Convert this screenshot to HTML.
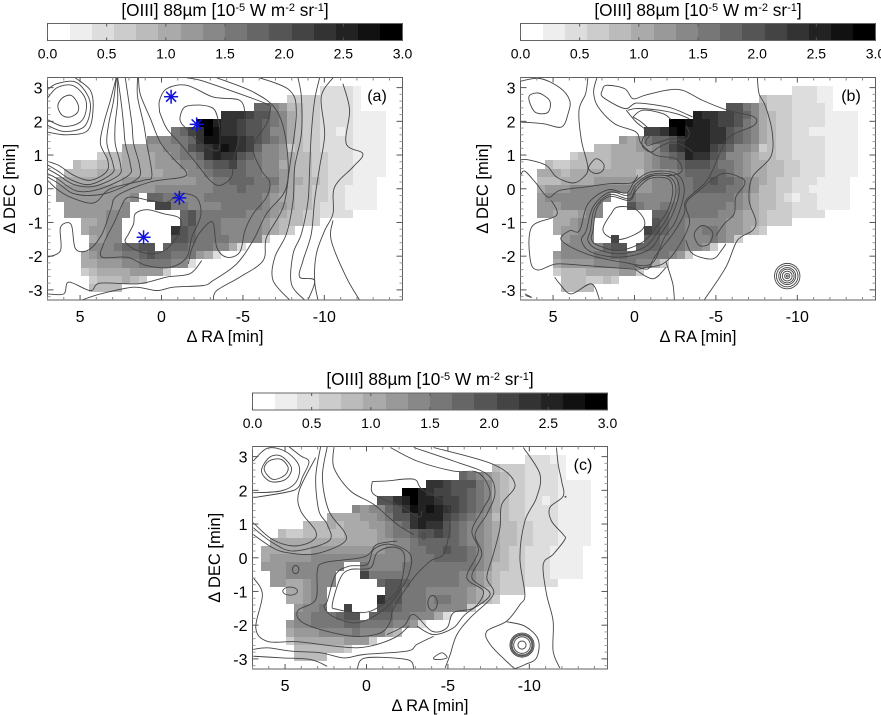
<!DOCTYPE html>
<html lang="en">
<head>
<meta charset="utf-8">
<title>[OIII] 88 micron maps</title>
<style>
html,body{margin:0;padding:0;background:#fff;}
svg{display:block;font-family:"Liberation Sans",sans-serif;fill:#000;}
</style>
</head>
<body>
<svg id="chart" xmlns="http://www.w3.org/2000/svg" width="881" height="715" viewBox="0 0 881 715"></svg>
<script>
// Flux bands per map cell (band index, each band is 3/16 x 10^-5 W m^-2 sr^-1). Rows run north to south, trailing blanks omitted.
const heatA=[
[0,0,0,0,0,0,0,0,0,0,0,0,0,0,0,0,0,0,0,0,0,0,0,0,0,0,0,0,0,0,0,0,2,2,2,2,1],
[0,0,0,0,0,0,0,0,0,0,0,0,0,0,0,0,0,0,0,0,0,0,0,0,0,0,0,0,3,3,3,3,2,2,2,2,1],
[0,0,0,0,0,0,0,0,0,0,0,0,0,0,0,0,0,0,0,0,0,0,0,0,9,9,7,6,4,4,3,3,2,2,2,2,1],
[0,0,0,0,0,0,0,0,0,0,0,0,0,0,0,0,0,0,0,0,12,12,12,11,10,10,8,7,5,4,3,3,2,2,2,2,1,1,1,1],
[0,0,0,0,0,0,0,0,0,0,0,0,0,0,0,0,0,15,15,13,12,12,11,10,10,9,8,7,5,4,3,3,2,2,2,2,1,1,1,1],
[0,0,0,0,0,0,0,0,0,0,0,0,0,0,8,9,11,12,15,14,12,12,11,10,10,9,7,7,5,4,3,3,2,2,1,2,1,1,1,1],
[0,0,0,0,0,0,0,0,0,0,0,7,7,7,8,8,9,12,14,14,13,13,12,11,10,9,8,7,5,4,3,3,2,2,2,2,1,1,1,1],
[0,0,0,0,0,0,0,0,5,5,5,6,6,7,7,8,10,11,12,13,14,13,12,11,9,7,7,6,3,4,3,3,2,2,2,2,1,1,1,1],
[0,0,0,0,0,3,4,4,5,5,5,5,6,6,7,8,8,9,12,13,12,12,10,9,8,7,7,6,5,4,4,3,3,2,2,2,1,1,1,1],
[0,0,4,3,3,4,4,4,5,5,5,5,6,6,6,7,7,8,9,10,10,11,9,8,8,7,7,5,5,4,4,3,3,2,2,2,1,1,1,1],
[0,4,4,4,4,5,5,5,5,5,5,5,5,6,6,6,7,7,8,9,9,9,9,8,8,7,7,6,5,4,4,3,3,2,2,2,1,1,1,1],
[5,5,5,5,5,5,5,5,6,6,6,6,6,6,6,6,6,7,7,8,8,9,9,9,8,8,8,6,5,5,4,4,3,2,2,2,1,1,1],
[6,6,6,6,6,6,6,6,6,6,6,6,7,7,7,7,7,7,7,8,8,8,9,8,8,8,7,6,5,4,4,3,3,2,2,1,1,1,1],
[6,6,6,6,6,6,6,6,6,7,0,9,9,8,8,7,7,7,8,8,8,8,8,8,8,7,6,5,5,4,4,3,3,2,2,1,1,1,1],
[0,6,6,6,6,6,6,6,7,0,0,0,11,11,8,8,7,7,7,7,8,8,8,8,8,7,6,6,5,4,4,3,2,2,2,1,1,1,1],
[0,6,6,6,6,6,7,7,7,0,0,0,0,0,0,9,10,8,8,8,8,8,8,7,7,7,6,5,4,4,3,3,2,2,2,2],
[0,0,0,5,5,6,7,7,0,0,0,0,0,0,0,9,10,8,8,8,7,7,7,7,7,6,5,4,4,4,3,3],
[0,0,0,5,6,6,7,7,0,0,0,0,0,0,12,10,9,8,8,8,7,7,7,7,7,6,5,4,3],
[0,0,0,0,5,6,7,7,0,0,0,0,0,0,10,10,9,8,8,8,8,7,7,7,7,3],
[0,0,0,0,7,7,7,8,9,9,10,10,0,9,9,9,8,8,8,7,7,5,2],
[0,0,0,5,6,7,7,7,8,8,9,10,9,9,8,8,8,6,5,2],
[0,0,0,5,5,6,6,6,7,7,8,8,8,8,7,7,2],
[0,0,0,3,4,5,5,5,5,6,6,6,6,3],
[0,0,0,0,3,4,4,4,5,4,3],
[0,0,0,0,4,4,4,4]
];
const heatB=[
[0,0,0,0,0,0,0,0,0,0,0,0,0,0,0,0,0,0,0,0,0,0,0,0,0,0,0,0,0,0,0,0,2,2,2,1,1],
[0,0,0,0,0,0,0,0,0,0,0,0,0,0,0,0,0,0,0,0,0,0,0,0,0,0,0,0,4,3,3,3,2,2,2,1,1],
[0,0,0,0,0,0,0,0,0,0,0,0,0,0,0,0,0,0,0,0,0,0,0,0,10,10,8,7,5,3,3,3,2,2,2,2,1],
[0,0,0,0,0,0,0,0,0,0,0,0,0,0,0,0,0,0,0,0,13,12,12,11,11,10,9,7,5,4,3,3,2,2,2,2,1,1,1,1],
[0,0,0,0,0,0,0,0,0,0,0,0,0,0,0,0,0,15,15,14,13,13,12,11,11,10,8,7,5,4,3,3,2,2,2,2,1,1,1,1],
[0,0,0,0,0,0,0,0,0,0,0,0,0,0,11,11,12,14,15,13,13,13,12,12,10,9,8,7,5,4,3,3,2,2,1,1,1,1,1,1],
[0,0,0,0,0,0,0,0,0,0,0,6,5,6,8,9,9,10,12,13,13,13,12,12,10,9,8,7,5,4,3,3,2,2,2,2,1,1,1,1],
[0,0,0,0,0,0,0,0,4,4,5,5,5,6,6,7,9,11,12,13,13,13,11,10,9,7,7,6,3,4,3,3,2,2,2,2,1,1,1,1],
[0,0,0,0,0,3,4,4,4,4,5,5,5,5,6,7,8,9,10,13,12,12,10,9,7,7,6,5,4,4,3,3,2,2,2,2,1,1,1,1],
[0,0,4,3,3,4,4,4,4,4,5,5,5,5,6,7,8,8,9,10,10,10,9,8,8,7,6,5,5,4,4,3,3,2,2,2,1,1,1,1],
[0,5,5,5,4,5,5,5,5,5,5,5,5,4,6,6,6,7,8,9,9,9,9,9,8,7,6,5,5,4,4,3,3,2,2,2,1,1,1,1],
[0,4,4,4,5,5,5,5,6,6,6,6,6,6,6,7,7,7,8,8,9,9,10,9,9,8,7,6,5,4,3,3,2,2,2,1,1,1,1],
[0,5,6,6,6,7,7,7,7,7,7,7,7,6,6,7,7,7,8,8,9,9,9,9,8,8,7,6,4,4,3,3,2,2,1,1,1,1,1],
[0,6,7,7,7,7,7,7,7,7,0,0,8,7,7,7,7,7,8,8,8,8,8,8,8,7,6,5,4,4,3,2,1,2,2,1,1,1,1],
[0,6,6,6,7,7,7,7,7,0,0,0,10,8,7,7,8,8,8,8,8,8,8,8,7,7,6,5,4,4,3,3,2,2,2,1,1,1,1],
[0,6,6,5,5,5,6,7,7,0,0,0,0,0,0,9,9,8,8,8,8,8,8,7,7,6,5,5,4,3,3,3,2,2,2,2],
[0,0,0,5,5,6,7,7,0,0,0,0,0,0,0,10,9,8,8,7,7,7,7,7,6,6,5,5,4,3,3,3],
[0,0,0,5,6,6,7,7,0,0,0,0,0,0,11,10,9,8,8,7,7,8,8,7,6,6,5,4,3],
[0,0,0,0,6,7,7,7,0,0,11,0,0,0,9,9,8,8,8,7,7,7,8,7,6,3],
[0,0,0,0,7,7,7,7,7,9,10,10,0,9,9,9,8,8,8,7,7,6,3],
[0,0,0,6,7,7,7,7,8,8,9,9,8,8,8,8,8,7,6,3],
[0,0,0,5,6,6,6,6,7,7,7,8,8,7,7,5,3],
[0,0,0,3,4,4,4,5,5,5,5,6,6,3],
[0,0,0,0,4,4,4,3,3,4,3],
[0,0,0,0,4,4,4,4]
];
const heatC=[
[0,0,0,0,0,0,0,0,0,0,0,0,0,0,0,0,0,0,0,0,0,0,0,0,0,0,0,0,0,0,0,0,2,2,2,1,1],
[0,0,0,0,0,0,0,0,0,0,0,0,0,0,0,0,0,0,0,0,0,0,0,0,0,0,0,0,4,3,3,3,2,2,2,2,1],
[0,0,0,0,0,0,0,0,0,0,0,0,0,0,0,0,0,0,0,0,0,0,0,0,9,8,7,6,5,4,3,3,2,2,2,2,1],
[0,0,0,0,0,0,0,0,0,0,0,0,0,0,0,0,0,0,0,0,12,12,11,10,10,10,8,7,5,4,3,3,2,2,2,2,1,1,1,1],
[0,0,0,0,0,0,0,0,0,0,0,0,0,0,0,0,0,15,15,13,12,11,11,10,10,9,8,7,5,4,3,3,2,2,2,2,1,1,1,1],
[0,0,0,0,0,0,0,0,0,0,0,0,0,0,10,10,12,13,15,13,13,12,11,11,10,9,8,7,5,4,3,3,2,2,1,2,1,1,1,1],
[0,0,0,0,0,0,0,0,0,0,0,7,6,7,7,9,10,12,14,13,14,13,12,11,10,9,8,7,5,4,3,3,2,2,2,2,1,1,1,1],
[0,0,0,0,0,0,0,0,5,5,5,5,6,6,7,8,10,10,12,13,13,13,11,10,9,8,7,6,4,4,3,3,2,2,2,2,1,1,1,1],
[0,0,0,0,0,4,4,4,5,4,5,5,5,6,6,7,8,9,12,13,12,12,10,9,8,7,7,6,5,4,4,3,3,2,2,2,1,1,1,1],
[0,0,4,3,3,4,4,4,4,4,5,5,5,5,6,7,8,8,9,10,10,11,10,9,8,7,7,6,5,4,4,3,3,2,2,2,1,1,1,1],
[0,5,5,5,5,5,5,5,5,5,5,5,5,5,6,6,7,7,8,9,9,9,9,9,8,7,7,6,5,4,4,3,3,2,2,2,1,1,1,1],
[5,5,5,5,5,5,6,6,6,6,6,6,6,6,6,7,7,7,8,8,9,9,10,9,9,8,7,6,5,4,3,3,2,2,2,1,1,1,1],
[5,6,6,6,6,6,7,7,7,7,7,7,7,7,7,7,7,7,8,8,8,9,9,9,9,8,7,6,5,4,3,3,2,2,2,1,1,1,1],
[6,6,6,7,7,7,7,7,7,7,0,0,8,7,7,7,7,8,8,8,8,8,8,8,8,8,7,6,4,4,3,3,2,2,2,1,1,1,1],
[0,6,6,7,7,7,7,7,7,0,0,0,11,8,8,8,8,8,8,8,8,8,8,8,7,7,6,5,4,3,3,3,2,2,2,1,1,1,1],
[0,6,6,5,5,6,7,7,7,0,0,0,0,0,9,10,10,9,8,8,8,8,8,8,7,7,6,5,4,3,3,3,2,2,2,2],
[0,0,0,5,5,6,7,7,0,0,0,0,0,0,0,10,10,8,8,8,7,7,7,7,7,6,5,4,4,3,3,3],
[0,0,0,5,5,6,7,7,0,0,0,0,0,0,12,10,10,8,8,8,7,8,8,7,7,6,5,4,3],
[0,0,0,0,6,7,7,8,0,0,11,0,0,0,10,10,9,8,8,8,7,7,7,7,7,3],
[0,0,0,0,7,7,8,8,8,9,10,10,0,9,9,9,8,8,7,7,7,5,2],
[0,0,0,6,7,7,8,8,8,8,9,9,8,8,8,8,7,7,6,2],
[0,0,0,5,6,6,6,7,7,7,7,8,7,7,7,5,4],
[0,0,0,3,5,5,5,5,5,5,6,6,6,3],
[0,0,0,0,4,4,4,4,4,4,3],
[0,0,0,0,4,4,4,4]
];
// Open contours: [RA, DEC] vertices in minutes.
const linesA=[
[[5.29,3.29],[4.37,2.92],[4.2,2.38],[4.53,1.73],[5.8,1.6],[7,1.68]],
[[7,2.94],[6.41,3.12],[5.29,3.17],[4.53,2.77],[4.37,2.33],[4.78,1.83],[6,1.7],[7,1.88]],
[[6.98,2.7],[6.41,3.0],[5.49,3.07],[4.78,2.77],[4.61,2.38],[4.98,1.98],[6,1.85],[7,2.05]],
[[2.78,3.29],[3.14,2.62],[3.55,1.93],[3.75,1.34],[3.3,.84],[3.39,.5],[4.37,.25],[5.39,.4],[6.3,.69],[7,.81]],
[[2.78,3.29],[2.94,2.62],[3.24,1.93],[3.35,1.34],[2.98,.74],[3.04,.45],[4.37,.13],[5.49,.25],[6.41,.54],[7,.71]],
[[2.73,3.29],[2.69,2.62],[2.84,1.93],[2.84,1.34],[2.53,.74],[2.63,.4],[4.16,.07],[5.39,.13],[6.41,.43],[7,.59]],
[[2.69,3.29],[2.49,2.62],[2.33,1.93],[2.22,1.34],[1.92,.74],[2.02,.4],[3.75,0],[5.18,-.07],[6.41,.3],[7,.45]],
[[2.22,3.29],[2.02,2.62],[1.82,1.93],[1.71,1.34],[1.35,.69],[1.47,.3],[3.14,-.1],[4.37,-.2],[5.49,-.13],[6.3,.15],[7,.35]],
[[1.47,3.29],[1.47,2.72],[1.1,1.93],[.9,1.34],[.59,.39],[1.1,.25],[3.15,0],[4.16,-.42],[5.59,-.25],[6.45,0],[7,.25]],
[[7,-2.03],[6.2,-1.83],[6.2,-1.14],[5.55,-1.06],[5.28,-1.78],[4.47,-1.81],[3.65,-1.34],[3.1,-.6],[2.7,-.2],[.69,.2],[-1.25,.34],[-1.51,.5],[-.72,.9],[.08,1.38],[.69,2.09],[1.3,2.8],[1.41,3.29]],
[[7,-3.12],[6,-3.12],[5.69,-2.77],[4.37,-3.02],[3.75,-2.8],[1.41,-2.82],[-.33,-2.62],[-1.75,-2.52],[-2.47,-2.13]],
[[-1.65,-2.23],[-1.86,-1.78],[-2.37,-1.29],[-3.14,-.99],[-3.39,-1.73],[-4,-2.03],[-4.81,-1.88],[-5.12,-1.24],[-5.63,-.74],[-6.45,-.25],[-6.65,.2],[-6.14,.54],[-5.63,1.24],[-6.45,1.93],[-6.69,2.38],[-6.45,2.52],[-4.2,2.92],[-2.37,3.22],[-1.55,3.29]],
[[4.88,-3.3],[3.75,-3.12],[1.71,-2.92],[.29,-3.02],[-.73,-2.92],[-2.57,-2.87],[-3.18,-2.72],[-4.61,-2.23],[-5.63,-1.53],[-6.45,-.74],[-7.67,.05],[-7.67,1.34],[-7.06,2.33],[-5.63,2.87],[-3.39,3.29]],
[[-6.04,3.29],[-7.87,2.92],[-8.28,2.23],[-7.87,.64],[-7.47,-.54],[-6.45,-1.44],[-6.24,-2.13],[-4.81,-2.62],[-3.39,-3.02],[-3.18,-3.3]],
[[-8.38,3.29],[-8.59,2.72],[-8.59,1.63],[-8.18,.64],[-8.08,-.35],[-7.67,-1.34],[-6.96,-2.03],[-6.85,-2.72],[-7.87,-3.3]],
[[-9.71,3.29],[-9.4,2.62],[-9.2,1.63],[-9.1,.64],[-9,-.35],[-8.59,-1.34],[-8.08,-1.93],[-7.98,-2.82],[-8.79,-3.3]],
[[-10.53,3.29],[-9.81,2.72],[-10.02,1.63],[-9.71,.64],[-9.4,-.35],[-9.2,-1.34],[-8.69,-2.13],[-8.49,-2.62],[-9.4,-2.72],[-9,-3.3]],
[[-11.14,3.12],[-11.55,2.33],[-11.34,1.34],[-12.36,1.04],[-11.75,.64],[-10.63,.05],[-10.53,-.74],[-10.02,-1.24],[-9.51,-1.93],[-9.4,-2.72],[-9.61,-3.3]],
[[-10.53,-.94],[-10.42,-1.53],[-11.34,-2.62],[-12.16,-3.3]]
];
const loopsA=[
[[6.37,2.45],[6.1,2.69],[5.55,2.77],[5.14,2.52],[5.14,2.28],[5.59,2.13],[6.1,2.18]],
[[.12,2.33],[.12,2.62],[-.33,2.97],[-1.55,3.07],[-3.18,2.72],[-4.81,2.62],[-5.12,2.13],[-4.92,1.73],[-4.41,.84],[-4.3,.35],[-3.59,.1],[-2.98,.25],[-2.16,.74],[-1.14,1.34],[-.33,1.78],[.08,2.23]],
[[-1.14,2.13],[-1.45,2.43],[-2.37,2.48],[-3.18,2.38],[-3.49,2.03],[-3.59,1.63],[-3.49,1.14],[-2.77,1.24],[-2.16,1.44],[-1.65,1.73],[-1.24,1.93]],
[[1.71,-1.04],[1.61,-.74],[.9,-.62],[-.12,-.74],[-1.14,-.89],[-1.04,-1.34],[-.33,-1.78],[.49,-1.93],[1.51,-1.83],[2.22,-1.58],[2.02,-1.34]],
[[2.53,-.59],[2.02,-.25],[.69,-.35],[-.33,-.4],[-1.14,-.15],[-2.16,-.27],[-2.41,-.79],[-1.86,-1.44],[-1.55,-2.03],[-.53,-2.33],[.9,-2.28],[2.12,-2.03],[3.65,-2.03],[3.55,-1.63],[2.84,-.94]]
];
const linesB=[
[[7,3.19],[5.81,3.27],[4.59,3],[3.98,2.62],[4.08,2.23],[4.49,1.83],[5.61,1.93],[7,1.98]],
[[2.86,3.29],[3,2.82],[3.41,2.33],[3.26,1.44],[2.86,.64],[3.12,.35],[3.77,.17],[4.79,.35],[5.41,.69],[6.53,.86],[7,.86]],
[[2.31,3.29],[2.51,2.87],[2.24,2.43],[1.22,1.93],[-.1,1.68],[-.41,1.34],[-1.33,.99],[-2.55,.89],[-2.92,.54],[-2.35,.4],[-1.22,.4],[-.51,.25]],
[[1.98,2.92],[1.73,3.07],[.61,2.97],[.1,2.67],[-.61,2.77],[-1.94,2.92],[-2.96,2.92],[-4.18,2.62],[-5.71,2.33],[-7.34,2.13],[-7.34,1.88],[-6.12,1.63],[-5.51,1.34],[-4.79,.54],[-4.28,.15],[-3.16,-.35],[-3.06,-.74],[-2.35,-1.34],[-1.22,-2.03],[-.82,-2.38],[0,-2.28]],
[[1.98,2.92],[1.94,2.72],[.61,2.38],[-.1,2.54],[-1.33,2.48],[-2.35,2.38],[-3.57,2.13]],
[[.41,2.33],[-.2,2.38],[-1.53,2.33],[-2.55,2.23],[-3.37,2.08]],
[[.1,2.13],[-.51,2.33],[-1.73,2.23],[-2.24,2.05]],
[[.51,2.33],[-.1,1.98],[-.82,1.68],[-.51,1.49],[-.51,1.24],[-1.02,1.09],[-1.53,1.24],[-2.35,1.39],[-3.16,1.24],[-3.57,1.09]],
[[.1,2.13],[-.41,1.98],[-1.02,1.68],[-.71,1.44],[-.82,1.29],[-1.53,1.39],[-2.35,1.49],[-3.06,1.44],[-3.37,1.63],[-3.16,1.88]],
[[7,.4],[6.73,.52],[6.02,.15],[5.3,-.25],[4.59,-.05],[3.06,.05],[1.53,.15],[.2,.17],[-.2,.4]],
[[5.1,-.35],[4.79,-.79],[6.32,-1.14],[6.39,-2.13],[5.92,-2.41],[4.79,-2.23],[2.96,-2.28],[0,-2.38],[-.71,-2.33],[-1.73,-2.23],[-2.55,-1.83],[-3.37,-1.04],[-3.16,-.45],[-3.98,-.05],[-5.41,.45],[-6.63,.3],[-6.73,.1],[-6.22,-.25],[-6.12,-.74],[-5.51,-1.04],[-5,-1.39]],
[[-7.55,3.29],[-7.65,2.82],[-8.06,2.43],[-8.47,1.63],[-8.36,.94],[-7.24,.35],[-7.04,-.35],[-7.45,-.94],[-7.24,-1.24],[-6.32,-1.53],[-5.61,-2.33],[-4.39,-3.22],[-4.28,-3.3]],
[[-1.94,-2.18],[-2.35,-2.82],[-2.45,-3.3]],
[[-3.16,-1.53],[-3.57,-1.93],[-4.79,-2.08],[-5.41,-1.78],[-5.61,-1.63]],
[[4.9,-2.62],[4.59,-2.82],[3.88,-3.12],[2.65,-2.82],[2.14,-3.3]],
[[0,-2.38],[-1.12,-2.67],[-1.94,-2.33]],
[[6.73,-3.12],[6.32,-3.22],[6.69,-3.17]]
];
const loopsB=[
[[6.49,2.72],[5.92,2.84],[5.3,2.67],[5.16,2.48],[5.37,2.25],[6.12,2.28]],
[[2.79,.67],[2.35,.89],[1.9,.74],[1.94,.54],[2.35,.45],[2.75,.54]],
[[1.94,-1.19],[1.43,-.74],[1.02,-.54],[0,-.59],[-.61,-.94],[-.41,-1.24],[.71,-1.49],[1.53,-1.44]],
[[2.55,-1.24],[2.31,-.59],[1.53,-.23],[.31,-.35],[-.1,-.05],[-.92,.3],[-2.04,.3],[-2.35,-.05],[-2.04,-.64],[-1.33,-1.14],[-.51,-1.58],[.92,-1.83],[2.24,-1.68],[2.65,-1.49]],
[[2.71,-1.24],[2.45,-.59],[1.53,-.17],[.31,-.3],[-.1,.05],[-.92,.37],[-2.14,.35],[-2.55,-.05],[-2.14,-.74],[-1.49,-1.24],[-.61,-1.73],[.92,-1.93],[2.35,-1.78],[2.86,-1.53]],
[[2.96,-1.24],[2.55,-.54],[1.53,-.1],[.41,-.2],[-.1,.15],[-1.02,.43],[-2.35,.4],[-2.75,-.05],[-2.35,-.74],[-1.63,-1.34],[-.82,-1.83],[.92,-2.03],[2.65,-1.88],[3.26,-1.53]],
[[3.37,-1.24],[2.86,-.45],[1.63,-.03],[.51,-.13],[0,.2],[-1.02,.5],[-2.55,.45],[-3.06,-.05],[-2.55,-.94],[-1.84,-1.44],[-1.02,-2.23],[.71,-2.18],[2.96,-1.93],[4.49,-1.53],[3.98,-1.24]],
[[-3.67,-1.34],[-4.18,-1.09],[-4.79,-1.29],[-4.59,-1.63],[-3.98,-1.68]]
];
const linesC=[
[[6.96,2.87],[6.08,3.25],[4.96,3.15],[4.14,2.72],[4.35,2.23],[5.26,1.98],[6.96,1.93]],
[[4.75,3.29],[4.04,3.02],[3.53,2.85],[3.94,2.38],[4.2,2.08],[4.86,1.95],[6.96,1.78]],
[[3.12,2.97],[4.14,1.98],[4.04,1.39],[3.12,.79],[3.33,.5],[4.45,.35],[5.77,.54],[6.96,1.04]],
[[2.82,3.29],[3.12,2.38],[2.92,1.39],[2.41,.99],[2.31,.5],[4.45,.2],[5.77,.45],[6.96,.89]],
[[2.41,3.29],[2.71,2.38],[2.31,1.39],[1.39,.79],[1.29,.5],[2.2,.25],[3.43,.1],[4.86,.15],[5.77,.3],[6.96,.69]],
[[2,3.29],[2,2.67],[.98,1.98],[-.45,1.58],[-1.88,.99],[-2.9,.69]],
[[-.35,2.26],[-1.26,2.28],[-2.9,2.33],[-3.41,2.03],[-5.04,1.49],[-4.83,.2],[-3.92,-.1],[-2.9,-.59],[-1.67,-1.49],[-1.47,-1.88],[-.86,-2.23],[.78,-2.33],[2.82,-2.13],[4.04,-1.88],[4.2,-1.56],[3.12,-1.24],[3.02,-.4],[2.61,-.15],[.37,0],[-.24,.15],[-.65,.4],[-1.88,.5]],
[[-.35,2.26],[-.45,1.88],[-2.08,1.53],[-3.2,1.21],[-3.41,1.39]],
[[-1.47,3.27],[-3.1,2.87],[-5.34,2.57],[-6.87,2.52],[-7.59,1.93],[-7.08,1.39],[-6.47,.79],[-6.87,.2],[-6.16,-.59],[-7.18,-.99],[-6.57,-1.49],[-5.34,-1.63],[-4.94,-2.08],[-4.02,-2.18],[-2.9,-1.68],[-2.28,-2.03],[-1.26,-2.28]],
[[-2.9,3.27],[-5.34,2.87],[-7.39,2.48],[-7.89,1.93],[-7.39,1.29],[-6.67,.69],[-7.08,.1],[-6.47,-.59],[-7.59,-1.09],[-6.06,-1.68],[-5.34,-2.08],[-4.12,-2.28],[-3.1,-2.03]],
[[-4.12,3.27],[-7.79,2.77],[-9.12,2.18],[-8.3,1.58],[-8.2,.89],[-7.79,.1],[-7.39,-.59],[-7.79,-1.09],[-6.37,-1.78],[-5.55,-2.28],[-5.14,-2.87],[-4.83,-3.27]],
[[-9.63,3.27],[-10.65,2.48],[-10.44,1.78],[-9.73,1.09],[-9.42,0],[-9.73,-1.09],[-9.42,-1.39],[-8.61,-1.88],[-7.39,-2.18],[-7.59,-2.57],[-8.81,-3.17],[-9.12,-3.29]],
[[-11.67,3.27],[-11.77,2.77],[-11.98,2.28],[-12.08,1.83],[-11.26,1.49],[-11.36,1.09],[-12.08,.69],[-12.18,.54],[-11.46,.1],[-10.85,-.2],[-11.06,-1.09],[-11.46,-1.88],[-11.46,-2.77],[-11.87,-3.27]],
[[-8.61,-1.9],[-9.73,-2.03],[-10.55,-2.43],[-10.44,-2.97],[-9.73,-3.17],[-9.12,-3.29]],
[[6.96,-.59],[6.39,-1.09],[6.8,-2.08],[6.08,-2.48],[4.24,-2.49],[2,-2.62],[.57,-2.67],[-.65,-2.57],[-1.88,-2.33],[-2.59,-2.03]],
[[6.96,-2.72],[6.08,-2.67],[4.65,-2.77],[2.82,-2.82],[1.39,-2.97],[.16,-2.87],[-2.49,-2.77],[-3.1,-2.57],[-4.12,-2.33]],
[[6.96,-2.92],[5.16,-2.97],[3.43,-3.02],[2.41,-3.22]],
[[.57,-3.29],[.06,-2.97],[-2.49,-3.02],[-2.9,-3.29]]
];
const loopsC=[
[[6.28,2.62],[5.98,2.87],[5.26,2.92],[4.81,2.67],[5.06,2.43],[5.77,2.33]],
[[6.45,2.57],[5.98,2.97],[5.26,3.02],[4.61,2.67],[4.96,2.33],[5.88,2.26]],
[[2.1,-1.39],[1.59,-.59],[.98,-.35],[-.24,-.3],[-.65,.15],[-1.57,.32],[-2.28,.15],[-2.28,-.4],[-1.88,-.99],[-.65,-1.49],[.37,-1.63],[1.8,-1.53]],
[[2.41,-1.29],[1.9,-.5],[1.08,-.25],[-.04,-.2],[-.45,.25],[-1.47,.4],[-2.69,.1],[-2.59,-.5],[-1.88,-1.09],[-.96,-1.58],[.57,-1.93],[2.1,-1.73],[2.61,-1.44]],
[[-4.12,-2.97],[-4.63,-2.82],[-4.94,-2.97],[-4.33,-3.02]]
];
// Compact elliptical contours: centre RA, centre DEC, RA radius, DEC radius.
const ovalsC=[[4.35,-.35,.2,.12],[4.69,-.99,.45,.12],[-4.06,-1.34,.29,.22],[-3.51,.64,.1,.1]];
// Point-source contour rings: centre and RA radii in minutes.
const sourceB=[-9.38,-2.59];
const sourceRadiiB=[.78,.66,.52,.42,.3,.16,.06];
const sourceC=[-9.55,-2.59];
const sourceRadiiC=[.74,.67,.61,.51,.25];
// Blue markers in panel (a).
const starRA=[-.59,-2.16,-1.10,1.10];
const starDEC=[2.73,1.91,-.27,-1.44];
// Axis and colour-bar definitions.
const raTicks=[5,0,-5,-10];
const raMinor=[7,6,4,3,2,1,-1,-2,-3,-4,-6,-7,-8,-9,-11,-12,-13,-14];
const decTicks=[3,2,1,0,-1,-2,-3];
const barTicks=[0,.5,1,1.5,2,2.5,3];
const barBands=[0,1,2,3,4,5,6,7,8,9,10,11,12,13,14,15];

const RA_LEFT=7, RA_RIGHT=-14.8, DEC_TOP=3.3, DEC_BOTTOM=-3.3;
const PW=355, PH=222.5, CELL_RA=.506, CELL_DEC=.2444, BAND_WIDTH=3/16;
const panels=[
 {id:'a',left:47.5,top:77.5,barTop:23.5,titleY:16,ra0:6.47,dec0:3.04,heat:heatA,lines:linesA,loops:loopsA,ovals:[],source:null,radii:[],labelX:377,labelY:101},
 {id:'b',left:520.5,top:77.5,barTop:23.5,titleY:16,ra0:6.51,dec0:3.04,heat:heatB,lines:linesB,loops:loopsB,ovals:[],source:sourceB,radii:sourceRadiiB,labelX:851,labelY:101},
 {id:'c',left:252.5,top:446.5,barTop:393,titleY:385,ra0:6.45,dec0:3.04,heat:heatC,lines:linesC,loops:loopsC,ovals:ovalsC,source:sourceC,radii:sourceRadiiC,labelX:583,labelY:470}
];
const NS='http://www.w3.org/2000/svg';
const root=document.getElementById('chart');
function make(tag,parent,props){
  const el=document.createElementNS(NS,tag);
  for(const k in props){el.setAttribute(k,props[k]);}
  parent.appendChild(el);
  return el;
}
function smooth(pts,closed){
  const n=pts.length;
  const at=i=>closed?pts[(i+n)%n]:pts[Math.max(0,Math.min(n-1,i))];
  let d='M'+pts[0][0].toFixed(1)+' '+pts[0][1].toFixed(1);
  const segs=closed?n:n-1;
  for(let i=0;i<segs;i++){
    const p0=at(i-1),p1=at(i),p2=at(i+1),p3=at(i+2);
    const c1x=p1[0]+(p2[0]-p0[0])/6,c1y=p1[1]+(p2[1]-p0[1])/6;
    const c2x=p2[0]-(p3[0]-p1[0])/6,c2y=p2[1]-(p3[1]-p1[1])/6;
    d+='C'+c1x.toFixed(1)+' '+c1y.toFixed(1)+' '+c2x.toFixed(1)+' '+c2y.toFixed(1)+' '+p2[0].toFixed(1)+' '+p2[1].toFixed(1);
  }
  return d+(closed?'Z':'');
}
function bandGray(level){
  const g=Math.round(255*(1-level/15));
  return 'rgb('+g+','+g+','+g+')';
}
panels.forEach(function(p){
  const xs=ra=>p.left+(RA_LEFT-ra)/(RA_LEFT-RA_RIGHT)*PW;
  const ys=dec=>p.top+(DEC_TOP-dec)/(DEC_TOP-DEC_BOTTOM)*PH;
  const barX=v=>p.left+v/3*PW;
  const g=make('g',root,{});
  
  

  // colour bar
  const bar=make('g',g,{});
  
  
  barBands.forEach(function(b){
    const x0=Math.round(barX(b*BAND_WIDTH)),x1=Math.round(barX((b+1)*BAND_WIDTH));
    const band=make('rect',bar,{x:x0,y:p.barTop,width:x1-x0,height:17,fill:bandGray(b)});
    
    
  });
  const barFrame=make('rect',bar,{x:p.left,y:p.barTop,width:PW,height:17,fill:'none',stroke:'#666','stroke-width':1});
  
  
  barTicks.forEach(function(v){
    const x=barX(v);
    const t1=make('line',bar,{x1:x,x2:x,y1:p.barTop,y2:p.barTop+3,stroke:'#555'});
    
    
    const t2=make('line',bar,{x1:x,x2:x,y1:p.barTop+14,y2:p.barTop+17,stroke:'#555'});
    
    
    const lab=make('text',bar,{x:x,y:p.barTop+35,'text-anchor':'middle','font-size':14});
    
    
    lab.textContent=v.toFixed(1);
  });
  const title=make('text',bar,{x:p.left+PW/2,y:p.titleY,'text-anchor':'middle','font-size':17.2});
  
  
  title.innerHTML='[OIII] 88\u00b5m [10<tspan dy="-5" font-size="11">-5</tspan><tspan dy="5"> W m</tspan><tspan dy="-5" font-size="11">-2</tspan><tspan dy="5"> sr</tspan><tspan dy="-5" font-size="11">-1</tspan><tspan dy="5">]</tspan>';

  // heat map cells
  const cells=make('g',g,{});
  
  
  p.heat.forEach(function(row,r){
    row.forEach(function(level,c){
      if(!level)return;
      const x0=Math.round(xs(p.ra0-c*CELL_RA)),x1=Math.round(xs(p.ra0-(c+1)*CELL_RA));
      const y0=Math.round(ys(p.dec0-r*CELL_DEC)),y1=Math.round(ys(p.dec0-(r+1)*CELL_DEC));
      const cell=make('rect',cells,{x:x0,y:y0,width:x1-x0,height:y1-y0,fill:bandGray(level)});
      
      
    });
  });

  // contours
  const clipId='clip-'+p.id;
  const defs=make('clipPath',g,{id:clipId});
  make('rect',defs,{x:p.left,y:p.top,width:PW,height:PH});
  const cg=make('g',g,{'clip-path':'url(#'+clipId+')',fill:'none',stroke:'#444','stroke-width':.9});
  
  
  p.lines.forEach(function(line){
    const path=make('path',cg,{d:smooth(line.map(q=>[xs(q[0]),ys(q[1])]),false)});
    
    
  });
  p.loops.forEach(function(loop){
    const path=make('path',cg,{d:smooth(loop.map(q=>[xs(q[0]),ys(q[1])]),true)});
    
    
  });
  p.ovals.forEach(function(o){
    const oval=make('ellipse',cg,{cx:xs(o[0]),cy:ys(o[1]),rx:Math.abs(xs(o[2])-xs(0)),ry:Math.abs(ys(o[3])-ys(0))});
    
    
  });
  p.radii.forEach(function(rad){
    const rx=Math.abs(xs(rad)-xs(0));
    const ring=make('ellipse',cg,{cx:xs(p.source[0]),cy:ys(p.source[1]),rx:rx,ry:rx});
    
    
  });

  // stars on panel a
  if(p.id==='a'){
    starRA.forEach(function(ra,i){
      const sx=xs(ra),sy=ys(starDEC[i]);
      const star=make('g',g,{stroke:'#1010e0','stroke-width':1.5});
      
      
      make('line',star,{x1:sx-7,x2:sx+7,y1:sy,y2:sy});
      make('line',star,{x1:sx,x2:sx,y1:sy-7,y2:sy+7});
      make('line',star,{x1:sx-5,x2:sx+5,y1:sy-5,y2:sy+5});
      make('line',star,{x1:sx-5,x2:sx+5,y1:sy+5,y2:sy-5});
    });
  }
  if(p.id==='c'){
    const speck=make('circle',g,{cx:xs(-12.22),cy:ys(1.81),r:1,fill:'#555'});
    
    
  }

  // frame and ticks
  const axes=make('g',g,{});
  
  
  const frame=make('rect',axes,{x:p.left,y:p.top,width:PW,height:PH,fill:'none',stroke:'#606060','stroke-width':1});
  
  
  const bottom=p.top+PH,right=p.left+PW;
  raTicks.forEach(function(v){
    const x=xs(v);
    const a=make('line',axes,{x1:x,x2:x,y1:bottom,y2:bottom-5,stroke:'#555'});
    
    
    const b=make('line',axes,{x1:x,x2:x,y1:p.top,y2:p.top+5,stroke:'#555'});
    
    
    const lab=make('text',axes,{x:x,y:bottom+22,'text-anchor':'middle','font-size':16});
    
    
    lab.textContent=String(v);
  });
  raMinor.forEach(function(v){
    const x=xs(v);
    const a=make('line',axes,{x1:x,x2:x,y1:bottom,y2:bottom-3,stroke:'#888'});
    
    
    const b=make('line',axes,{x1:x,x2:x,y1:p.top,y2:p.top+3,stroke:'#888'});
    
    
  });
  decTicks.forEach(function(v){
    const y=ys(v);
    const a=make('line',axes,{x1:p.left,x2:p.left+6,y1:y,y2:y,stroke:'#555'});
    
    
    const b=make('line',axes,{x1:right,x2:right-6,y1:y,y2:y,stroke:'#555'});
    
    
    const lab=make('text',axes,{x:p.left-5,y:y+6,'text-anchor':'end','font-size':16});
    
    
    lab.textContent=String(v);
    [.2,.4,.6,.8].forEach(function(step){
      const val=v-step;
      if(val<DEC_BOTTOM)return;
      const yy=ys(val);
      const c=make('line',axes,{x1:p.left,x2:p.left+3,y1:yy,y2:yy,stroke:'#999'});
      
      
      const d=make('line',axes,{x1:right,x2:right-3,y1:yy,y2:yy,stroke:'#999'});
      
      
    });
  });
  const xTitle=make('text',axes,{x:p.left+PW/2,y:bottom+42,'text-anchor':'middle','font-size':16.5});
  
  
  xTitle.textContent='\u0394 RA [min]';
  const yMid=p.top+PH/2;
  const yTitle=make('text',axes,{x:0,y:0,'text-anchor':'middle','font-size':16.5,transform:'translate('+(p.left-32.5)+' '+yMid+') rotate(-90)'});
  
  
  yTitle.textContent='\u0394 DEC [min]';
  const tag=make('text',axes,{x:p.labelX,y:p.labelY,'text-anchor':'middle','font-size':16});
  
  
  tag.textContent='('+p.id+')';
});
</script>
</body>
</html>
